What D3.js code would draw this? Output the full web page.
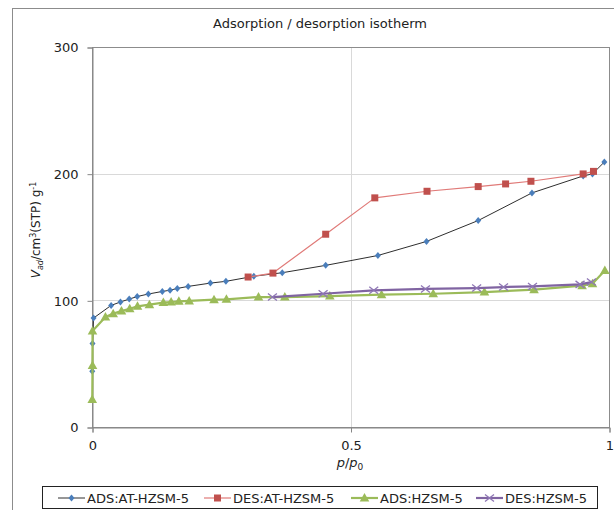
<!DOCTYPE html>
<html>
<head>
<meta charset="utf-8">
<script src="https://cdn.jsdelivr.net/npm/d3@7"></script>
<style>
  body { margin: 0; background: #fff; }
  svg { font-family: "DejaVu Sans", sans-serif; }
</style>
</head>
<body>
<svg id="chart" width="614" height="510"></svg>
<script>
// values
const adsAtP = [0.0005, 0.001, 0.003, 0.037, 0.055, 0.072, 0.0875, 0.109, 0.136, 0.151, 0.165, 0.186, 0.229, 0.259, 0.313, 0.368, 0.452, 0.553, 0.647, 0.747, 0.851, 0.95, 0.968, 0.991];
const adsAtV = [44, 66, 86, 96, 98.7, 101, 103, 105, 107, 108, 109.4, 111, 113.6, 115, 119, 121.8, 127.6, 135.4, 146.5, 163, 184.8, 198.2, 199.8, 209.2];

const desAtP = [0.97, 0.95, 0.849, 0.8, 0.747, 0.648, 0.547, 0.452, 0.35, 0.302];
const desAtV = [201.8, 199.8, 194, 191.9, 189.8, 186.1, 180.9, 152.2, 121.5, 118.4];

const adsHP = [0.0005, 0.001, 0.001, 0.026, 0.041, 0.057, 0.073, 0.088, 0.111, 0.138, 0.153, 0.168, 0.188, 0.236, 0.26, 0.322, 0.373, 0.46, 0.56, 0.66, 0.759, 0.855, 0.948, 0.968, 0.992];
const adsHV = [21.8, 48.6, 75.8, 86.9, 89.5, 91.6, 93.4, 95.3, 96.6, 98.2, 98.7, 99.2, 99.5, 100.5, 100.8, 102.6, 102.6, 103.4, 104.5, 105.2, 106.5, 108.4, 111.6, 113.1, 123.6];

const desHP = [0.966, 0.944, 0.852, 0.796, 0.744, 0.645, 0.545, 0.447, 0.349];
const desHV = [114.4, 112.6, 111, 110.5, 109.7, 109, 107.9, 105.2, 102.6];

const seriesNames = ["ADS:AT-HZSM-5", "DES:AT-HZSM-5", "ADS:HZSM-5", "DES:HZSM-5"];
const xTicks = [0, 0.5, 1];
const yTicks = [0, 100, 200, 300];

const series = [
  { name: seriesNames[0], p: adsAtP, v: adsAtV, line: "#2e2e2e", lw: 1, fill: "#4a7ebb", marker: "diamond" },
  { name: seriesNames[1], p: desAtP, v: desAtV, line: "#e07a78", lw: 1.2, fill: "#c0504d", marker: "square" },
  { name: seriesNames[2], p: adsHP, v: adsHV, line: "#9bbb59", lw: 2.2, fill: "#9bbb59", marker: "triangle" },
  { name: seriesNames[3], p: desHP, v: desHV, line: "#8064a2", lw: 2.2, fill: "#8f77b5", marker: "cross" },
];

const svg = d3.select("#chart");

// outer chart frame
svg.append("rect")
  .attr("x", 12.5).attr("y", 8.5)
  .attr("width", 700).attr("height", 600)
  .attr("fill", "#fff").attr("stroke", "#8c8c8c");

const x = d3.scaleLinear().domain([0, 1]).range([92, 609]);
const y = d3.scaleLinear().domain([0, 300]).range([427, 47]);

// grid
svg.append("g").selectAll("line").data([100, 200]).join("line")
  .attr("x1", x(0)).attr("x2", x(1))
  .attr("y1", (d) => Math.round(y(d)) + 0.5).attr("y2", (d) => Math.round(y(d)) + 0.5)
  .attr("stroke", "#d9d9d9");
svg.append("line")
  .attr("x1", Math.round(x(0.5)) + 0.5).attr("x2", Math.round(x(0.5)) + 0.5)
  .attr("y1", y(0)).attr("y2", y(300))
  .attr("stroke", "#d9d9d9");

// plot border
svg.append("rect")
  .attr("x", x(0) + 0.5).attr("y", y(300) + 0.5)
  .attr("width", x(1) - x(0)).attr("height", y(0) - y(300))
  .attr("fill", "none").attr("stroke", "#8c8c8c");

// axes
const yAxis = svg.append("g")
  .attr("transform", `translate(${x(0) + 0.5},0.5)`)
  .call(d3.axisLeft(y).tickValues(yTicks).tickSize(5).tickPadding(9));
const xAxis = svg.append("g")
  .attr("transform", `translate(0.5,${y(0) + 0.5})`)
  .call(d3.axisBottom(x).tickValues(xTicks).tickSize(5).tickPadding(8).tickFormat(d3.format("")));
[xAxis, yAxis].forEach((a) => {
  a.select(".domain").attr("stroke", "#868686");
  a.selectAll(".tick line").attr("stroke", "#868686");
  a.selectAll("text").attr("font-size", 13).attr("fill", "#222").attr("font-family", "DejaVu Sans, sans-serif");
});

// title
svg.append("text")
  .attr("x", 320).attr("y", 28)
  .attr("text-anchor", "middle").attr("font-size", 13).attr("fill", "#222")
  .text("Adsorption / desorption isotherm");

// x label
const xl = svg.append("text")
  .attr("x", 350).attr("y", 467)
  .attr("text-anchor", "middle").attr("font-size", 13).attr("fill", "#222");
xl.append("tspan").attr("font-style", "italic").text("p");
xl.append("tspan").text("/");
xl.append("tspan").attr("font-style", "italic").text("p");
xl.append("tspan").attr("font-size", 9).attr("dy", 3).text("0");

// y label
const yl = svg.append("text")
  .attr("transform", "translate(40,230) rotate(-90)")
  .attr("text-anchor", "middle").attr("font-size", 12).attr("fill", "#222");
yl.append("tspan").attr("font-style", "italic").text("V");
yl.append("tspan").attr("font-style", "italic").attr("font-size", 8).attr("dy", 3).text("ad");
yl.append("tspan").attr("dy", -3).text("/cm");
yl.append("tspan").attr("font-size", 8).attr("dy", -4).text("3");
yl.append("tspan").attr("dy", 4).text("(STP) g");
yl.append("tspan").attr("font-size", 8).attr("dy", -4).text("-1");

function drawMarker(g, type, fill, cx, cy) {
  if (type === "diamond") {
    g.append("path").attr("d", `M${cx},${cy - 3.5}L${cx + 3},${cy}L${cx},${cy + 3.5}L${cx - 3},${cy}Z`).attr("fill", fill);
  } else if (type === "square") {
    g.append("rect").attr("x", cx - 3.5).attr("y", cy - 3.5).attr("width", 7).attr("height", 7).attr("fill", fill);
  } else if (type === "triangle") {
    g.append("path").attr("d", `M${cx},${cy - 5}L${cx + 4.8},${cy + 3.5}L${cx - 4.8},${cy + 3.5}Z`).attr("fill", fill);
  } else {
    g.append("path").attr("d", `M${cx - 4.5},${cy - 3.5}L${cx + 4.5},${cy + 3.5}M${cx - 4.5},${cy + 3.5}L${cx + 4.5},${cy - 3.5}`)
      .attr("stroke", fill).attr("stroke-width", 1.3).attr("fill", "none");
  }
}

const line = d3.line().x((d) => x(d[0])).y((d) => y(d[1]));

series.forEach((s) => {
  const pts = s.p.map((p, i) => [p, s.v[i]]);
  const g = svg.append("g");
  g.append("path").datum(pts).attr("d", line)
    .attr("fill", "none").attr("stroke", s.line).attr("stroke-width", s.lw).attr("stroke-linejoin", "round");
  pts.forEach((d) => drawMarker(g, s.marker, s.fill, x(d[0]), y(d[1])));
});

// legend
svg.append("rect")
  .attr("x", 42.5).attr("y", 486.5).attr("width", 555).attr("height", 22)
  .attr("fill", "#fff").attr("stroke", "#222");
const legendX = [58, 204, 351, 476];
series.forEach((s, i) => {
  const g = svg.append("g").attr("transform", `translate(${legendX[i]},498)`);
  g.append("line").attr("x1", 0).attr("x2", 27).attr("stroke", s.line).attr("stroke-width", s.lw);
  drawMarker(g, s.marker, s.fill, 13.5, 0);
  g.append("text").attr("x", 29).attr("y", 4.5).attr("font-size", 13).attr("fill", "#222").text(s.name);
});
</script>
</body>
</html>
